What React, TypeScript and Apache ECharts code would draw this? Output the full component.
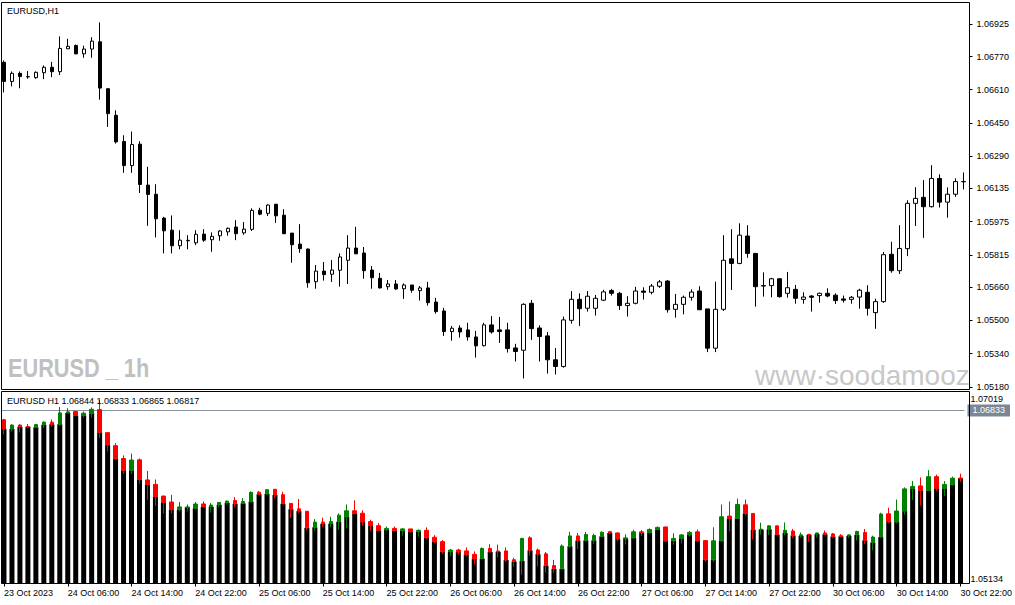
import React, { useEffect, useRef } from "react";
import * as echarts from "echarts";

// hourly sessions shown on the chart (day, first hour, last hour)
const sessions: [string, number, number][] = [
  ["23 Oct", 22, 23],
  ["24 Oct", 0, 23],
  ["25 Oct", 0, 23],
  ["26 Oct", 0, 23],
  ["27 Oct", 0, 23],
  ["30 Oct", 0, 22],
];
const categories: string[] = [];
sessions.forEach(([day, from, to]) => {
  for (let h = from; h <= to; h++) categories.push(`${day} ${String(h).padStart(2, "0")}:00`);
});
const firstLabel = "23 Oct 2023";

const openP = [
  1.06742, 1.0665, 1.06689, 1.06673, 1.06668, 1.06692, 1.06718, 1.06697, 1.06807, 1.06823,
  1.06783, 1.06806, 1.06841, 1.06615, 1.06487, 1.06361, 1.06245, 1.06348, 1.06151, 1.06107,
  1.05992, 1.05934, 1.05859, 1.05883, 1.05873, 1.05915, 1.05888, 1.05907, 1.05926, 1.05949,
  1.05921, 1.05938, 1.0603, 1.06015, 1.06059, 1.06006, 1.0592, 1.05867, 1.05843, 1.05686,
  1.05737, 1.05722, 1.05741, 1.05789, 1.05848, 1.05824, 1.05742, 1.05702, 1.05662, 1.05675,
  1.05652, 1.0567, 1.05643, 1.05656, 1.05588, 1.05545, 1.05446, 1.05463, 1.05454, 1.0542,
  1.05378, 1.05478, 1.05454, 1.05454, 1.05367, 1.05356, 1.05582, 1.05463, 1.05425, 1.0531,
  1.05278, 1.055, 1.05601, 1.05558, 1.05558, 1.05597, 1.05643, 1.0563, 1.05571, 1.05582,
  1.05641, 1.05635, 1.05664, 1.05689, 1.05553, 1.05577, 1.05611, 1.05641, 1.05555, 1.05366,
  1.05553, 1.05796, 1.05774, 1.05906, 1.05822, 1.05665, 1.05667, 1.057, 1.0563, 1.05649,
  1.05601, 1.05617, 1.05619, 1.0563, 1.05621, 1.05603, 1.05601, 1.05612, 1.05635, 1.05537,
  1.0559, 1.05818, 1.05739, 1.05845, 1.06063, 1.06092, 1.06047, 1.06183, 1.06069, 1.06107,
  1.06168,
];
const highP = [
  1.06751, 1.06698, 1.06698, 1.067, 1.06698, 1.06727, 1.06744, 1.06867, 1.06855, 1.06828,
  1.06822, 1.06863, 1.06934, 1.06616, 1.06511, 1.06391, 1.06409, 1.06362, 1.06239, 1.06155,
  1.05998, 1.06005, 1.05934, 1.0591, 1.05934, 1.05939, 1.05923, 1.05934, 1.05947, 1.05982,
  1.05973, 1.06039, 1.06042, 1.06059, 1.0606, 1.06035, 1.0592, 1.05963, 1.05846, 1.05766,
  1.05781, 1.0579, 1.05822, 1.0591, 1.0595, 1.05853, 1.05761, 1.05728, 1.05694, 1.05694,
  1.05678, 1.0567, 1.05665, 1.05685, 1.05608, 1.0556, 1.05473, 1.05476, 1.05488, 1.05449,
  1.05488, 1.0552, 1.05516, 1.05488, 1.05387, 1.05582, 1.05598, 1.05476, 1.05444, 1.05367,
  1.05518, 1.05641, 1.0563, 1.05641, 1.05622, 1.05647, 1.05651, 1.05637, 1.05616, 1.05661,
  1.05659, 1.05675, 1.05694, 1.05694, 1.05627, 1.05619, 1.05649, 1.05664, 1.05555, 1.05686,
  1.0591, 1.05939, 1.05967, 1.05958, 1.05822, 1.05731, 1.05705, 1.05702, 1.05733, 1.0567,
  1.05635, 1.05621, 1.05633, 1.05654, 1.0563, 1.05619, 1.05617, 1.05652, 1.05669, 1.05604,
  1.05829, 1.05878, 1.05958, 1.06078, 1.06141, 1.06175, 1.06247, 1.06203, 1.0614, 1.06183,
  1.06212,
];
const lowP = [
  1.06597, 1.06626, 1.06617, 1.06663, 1.06663, 1.06661, 1.06671, 1.06681, 1.06806, 1.0678,
  1.06764, 1.06764, 1.06562, 1.06431, 1.06351, 1.0621, 1.0621, 1.06113, 1.05955, 1.05899,
  1.05822, 1.05822, 1.05842, 1.05842, 1.05862, 1.05878, 1.0583, 1.05883, 1.05907, 1.05886,
  1.05912, 1.0593, 1.06006, 1.06002, 1.05969, 1.05915, 1.05777, 1.05825, 1.05657, 1.05652,
  1.05691, 1.05685, 1.05662, 1.05675, 1.0582, 1.057, 1.05652, 1.05653, 1.05647, 1.05647,
  1.05603, 1.05633, 1.05595, 1.05571, 1.05532, 1.05425, 1.05402, 1.05417, 1.05402, 1.05321,
  1.05374, 1.05436, 1.05391, 1.05345, 1.05302, 1.0522, 1.05406, 1.05302, 1.05244, 1.05239,
  1.05272, 1.05484, 1.05473, 1.05542, 1.05523, 1.05593, 1.05619, 1.0555, 1.05518, 1.05577,
  1.056, 1.05625, 1.05656, 1.05537, 1.05513, 1.05529, 1.05595, 1.05549, 1.05347, 1.05347,
  1.05545, 1.05646, 1.0577, 1.05801, 1.05566, 1.05614, 1.05611, 1.05609, 1.05609, 1.0558,
  1.0558, 1.05542, 1.05585, 1.05611, 1.05579, 1.05585, 1.0558, 1.05556, 1.05523, 1.05459,
  1.05584, 1.05729, 1.05723, 1.05809, 1.05954, 1.05897, 1.06043, 1.06043, 1.05994, 1.06094,
  1.0613,
];
const closeP = [
  1.0665, 1.06689, 1.06674, 1.06672, 1.06694, 1.06718, 1.06697, 1.06809, 1.06819, 1.06783,
  1.06806, 1.06844, 1.06618, 1.06495, 1.06359, 1.06245, 1.06346, 1.06154, 1.06106, 1.05989,
  1.05931, 1.05859, 1.05886, 1.05885, 1.05914, 1.05886, 1.05904, 1.0593, 1.05943, 1.05917,
  1.05939, 1.06029, 1.06011, 1.06055, 1.06003, 1.05917, 1.05864, 1.05845, 1.05681, 1.05737,
  1.0572, 1.05742, 1.05805, 1.05848, 1.0582, 1.05739, 1.05705, 1.05656, 1.05675, 1.05651,
  1.0567, 1.05645, 1.05656, 1.05585, 1.05542, 1.05446, 1.05462, 1.05444, 1.0542, 1.05377,
  1.05478, 1.05444, 1.05446, 1.05364, 1.0535, 1.05577, 1.0546, 1.05422, 1.0531, 1.05278,
  1.05502, 1.05601, 1.05556, 1.05616, 1.05606, 1.05637, 1.0563, 1.05571, 1.05582, 1.05641,
  1.05635, 1.05665, 1.05685, 1.05551, 1.05577, 1.05611, 1.05636, 1.05551, 1.05366, 1.05553,
  1.05789, 1.05774, 1.0591, 1.05822, 1.05662, 1.05667, 1.057, 1.05614, 1.05657, 1.05606,
  1.05612, 1.05611, 1.0563, 1.05617, 1.05595, 1.05597, 1.05611, 1.05645, 1.05558, 1.0559,
  1.05816, 1.05739, 1.05846, 1.06063, 1.06087, 1.06047, 1.06183, 1.06069, 1.06107, 1.06168,
  1.06167,
];

// right scale labels
const priceTicks = [
  "1.05180", "1.05340", "1.05500", "1.05660", "1.05815", "1.05975",
  "1.06135", "1.06290", "1.06450", "1.06610", "1.06770", "1.06925",
];
const subMax = 1.07019;
const subMin = 1.05134;
const subLine = 1.06833;
const subHeader = "EURUSD H1 1.06844 1.06833 1.06865 1.06817";

const FONT = "'Liberation Sans', Arial, sans-serif";

const App: React.FC = () => {
  const chartRef = useRef<HTMLDivElement>(null);

  useEffect(() => {
    if (!chartRef.current) return;
    const chart = echarts.init(chartRef.current, undefined, { renderer: "svg" });

    const candles = openP.map((o, i) => [o, closeP[i], lowP[i], highP[i]]);
    const bodyBottom = openP.map((o, i) => Math.min(o, closeP[i]));
    const tickValues = priceTicks.map(Number);

    const option = {
      animation: false,
      backgroundColor: "#fff",
      grid: [
        { left: -0.5, width: 968, top: 2.5, height: 387 },
        { left: -0.5, width: 968, top: 391.5, height: 192 },
      ],
      xAxis: [
        { type: "category", gridIndex: 0, data: categories, show: false },
        {
          type: "category",
          gridIndex: 1,
          data: categories,
          axisLine: { show: false },
          axisTick: {
            show: true,
            alignWithLabel: true,
            interval: 7,
            length: 3,
            lineStyle: { color: "#000" },
          },
          axisLabel: {
            interval: 7,
            align: "left",
            margin: 5,
            fontSize: 9,
            color: "#000",
            fontFamily: FONT,
            formatter: (v: string, idx: number) => (idx === 0 ? firstLabel : v),
          },
        },
      ],
      yAxis: [
        {
          type: "value",
          gridIndex: 0,
          position: "right",
          offset: 2,
          min: 1.05167,
          max: 1.0703,
          splitLine: { show: false },
          axisLine: { show: false },
          axisTick: {
            show: true,
            customValues: tickValues,
            length: 3,
            lineStyle: { color: "#000" },
          },
          axisLabel: {
            customValues: tickValues,
            formatter: (v: number) => v.toFixed(5),
            margin: 7,
            fontSize: 9,
            color: "#000",
            fontFamily: FONT,
          },
        },
        {
          type: "value",
          gridIndex: 1,
          position: "right",
          offset: 2,
          min: subMin,
          max: subMax,
          splitLine: { show: false },
          axisLine: { show: false },
          axisTick: { show: false },
          axisLabel: {
            customValues: [subMax],
            formatter: (v: number) => v.toFixed(5),
            verticalAlign: "top",
            padding: [3, 0, 0, 0],
            margin: 4,
            fontSize: 9,
            color: "#000",
            fontFamily: FONT,
          },
        },
        {
          type: "value",
          gridIndex: 1,
          position: "right",
          offset: 2,
          min: subMin,
          max: subMax,
          splitLine: { show: false },
          axisLine: { show: false },
          axisTick: { show: false },
          axisLabel: {
            customValues: [subMin],
            formatter: (v: number) => v.toFixed(5),
            verticalAlign: "bottom",
            margin: 4,
            fontSize: 9,
            color: "#000",
            fontFamily: FONT,
          },
        },
      ],
      series: [
        {
          name: "EURUSD",
          type: "candlestick",
          xAxisIndex: 0,
          yAxisIndex: 0,
          data: candles,
          barWidth: 4,
          itemStyle: {
            color: "#fff",
            color0: "#000",
            borderColor: "#000",
            borderColor0: "#000",
            borderWidth: 1,
          },
        },
        {
          name: "base",
          type: "bar",
          xAxisIndex: 1,
          yAxisIndex: 1,
          data: bodyBottom,
          barWidth: 5,
          clip: true,
          silent: true,
          itemStyle: { color: "#000" },
          markLine: {
            silent: true,
            symbol: "none",
            precision: 5,
            z: 1,
            data: [{ yAxis: subLine }],
            lineStyle: { color: "#8a949e", type: "solid", width: 1 },
            label: {
              position: "end",
              distance: 3,
              formatter: subLine.toFixed(5),
              backgroundColor: "#7b8794",
              color: "#fff",
              padding: [2, 5, 1, 5],
              fontSize: 9,
              fontFamily: FONT,
            },
          },
        },
        {
          name: "EURUSD H1",
          type: "candlestick",
          xAxisIndex: 1,
          yAxisIndex: 1,
          data: candles,
          barWidth: 4,
          itemStyle: {
            color: "#008000",
            color0: "#ff0000",
            borderColor: "#008000",
            borderColor0: "#ff0000",
            borderWidth: 1,
          },
        },
      ],
      graphic: [
        {
          type: "rect",
          z: 10,
          shape: { x: 0, y: 0, width: 1.5, height: 605 },
          style: { fill: "#fff" },
        },
        {
          type: "rect",
          z: 11,
          shape: { x: 1.5, y: 2.5, width: 968, height: 387 },
          style: { fill: "none", stroke: "#000", lineWidth: 1 },
        },
        {
          type: "rect",
          z: 11,
          shape: { x: 1.5, y: 391.5, width: 968, height: 192 },
          style: { fill: "none", stroke: "#000", lineWidth: 1 },
        },
        {
          type: "text",
          z: 12,
          x: 7,
          y: 11,
          style: {
            text: "EURUSD,H1",
            fill: "#000",
            fontSize: 9,
            fontFamily: FONT,
            verticalAlign: "middle",
          },
        },
        {
          type: "text",
          z: 12,
          x: 7,
          y: 400.5,
          style: {
            text: subHeader,
            fill: "#000",
            fontSize: 9,
            fontFamily: FONT,
            verticalAlign: "middle",
          },
        },
        {
          type: "text",
          z: 1,
          x: 8,
          y: 368,
          scaleX: 0.82,
          style: {
            text: "EURUSD _ 1h",
            fill: "#c0c0c0",
            fontSize: 26.5,
            fontWeight: "bold",
            fontFamily: FONT,
            verticalAlign: "middle",
          },
        },
        {
          type: "text",
          z: 1,
          x: 755,
          y: 375,
          style: {
            text: "www·soodamooz",
            fill: "#c8c8c8",
            fontSize: 28,
            fontFamily: FONT,
            verticalAlign: "middle",
          },
        },
      ],
    };

    chart.setOption(option);

    return () => {
      chart.dispose();
    };
  }, []);

  return (
    <div
      ref={chartRef}
      style={{
        position: "fixed",
        left: 0,
        top: 0,
        width: "1015px",
        height: "605px",
        background: "#fff",
      }}
    />
  );
};

export default App;
